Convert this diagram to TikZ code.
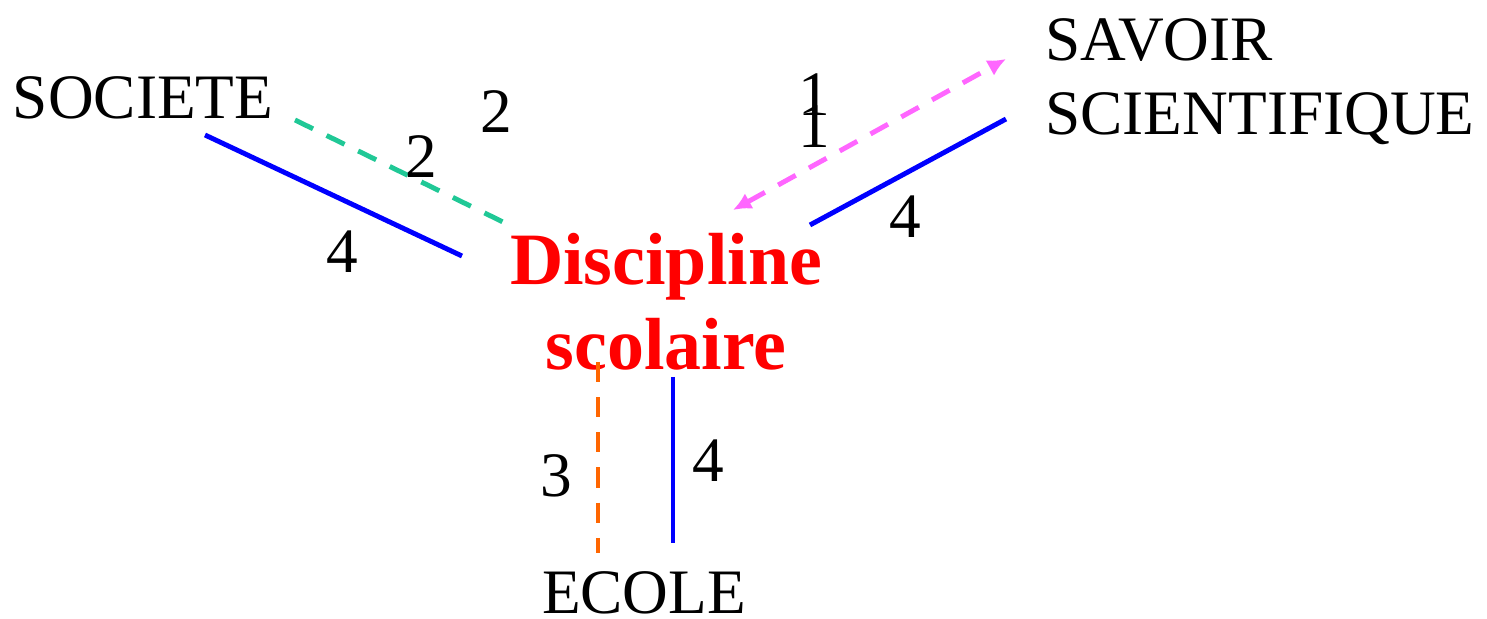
\documentclass[tikz,border=0pt]{standalone}
\usepackage{fontspec}
\setmainfont{Liberation Serif}
\usetikzlibrary{arrows.meta}
\definecolor{bleuLien}{RGB}{0,0,255}
\definecolor{vertLien}{RGB}{32,200,150}
\definecolor{roseLien}{RGB}{255,102,255}
\definecolor{orangeLien}{RGB}{255,102,0}
\begin{document}
\begin{tikzpicture}[x=0.01cm, y=-0.01cm, >={Latex[length=5.2pt,width=5pt]}, line width=1.4pt,
    every node/.style={inner sep=0pt, font=\fontsize{18}{21.3}\selectfont},
    pole/.style={anchor=base},
    chiffre/.style={anchor=base},
    plein/.style={draw=bleuLien},
    tirets/.style={dash pattern=on 5.7pt off 4.3pt}]
	\useasboundingbox (0,0) rectangle (1487,619);
	
	% 1. les poles
	\node[pole] (societe) at (143,119) {SOCIETE};
	\node[pole, anchor=base west, align=left] (savoir) at (1043,135) {SAVOIR\\SCIENTIFIQUE};
	\node[pole] (ecole) at (644,614) {ECOLE};
	\node[pole, align=center, text=red, font=\fontsize{21}{24.2}\selectfont\bfseries] (discipline) at (666,370) {Discipline\\scolaire};
	
	% 2. extremites des liens
	\coordinate (s1) at (205,135);  \coordinate (d1) at (462,256);
	\coordinate (s2) at (295,120);  \coordinate (d2) at (505,223);
	\coordinate (v1) at (1006,59);  \coordinate (d3) at (733,210);
	\coordinate (v2) at (1006,119); \coordinate (d4) at (810,225);
	\coordinate (e1) at (598,553);  \coordinate (d5) at (598,362);
	\coordinate (e2) at (673,543);  \coordinate (d6) at (673,377);
	
	% 3. liens
	\draw[plein] (s1) -- (d1);
	\draw[vertLien, tirets] (s2) -- (d2);
	\draw[roseLien, tirets, <->] (d3) -- (v1);
	\draw[plein] (d4) -- (v2);
	\draw[orangeLien, tirets] (d5) -- (e1);
	\draw[plein] (d6) -- (e2);
	
	% 4. chiffres
	\node[chiffre] (n2a) at (496,133) {2};
	\node[chiffre] (n2b) at (421,178) {2};
	\node[chiffre] (n4a) at (342,273) {4};
	\node[chiffre] (n1a) at (814,116) {1};
	\node[chiffre] (n1b) at (814,148) {1};
	\node[chiffre] (n4b) at (905,238) {4};
	\node[chiffre] (n3) at (556,497) {3};
	\node[chiffre] (n4c) at (708,482) {4};
\end{tikzpicture}
\end{document}
